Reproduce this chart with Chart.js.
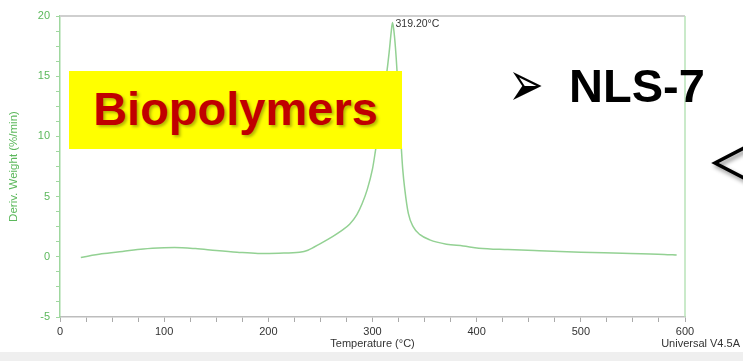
<!DOCTYPE html>
<html lang="en">
<head>
    <meta charset="UTF-8" />
    <title>DTG NLS-7</title>
    <script src="https://cdn.jsdelivr.net/npm/chart.js"></script>
    <style>
        html, body { margin: 0; padding: 0; background: #fff; }
        .slide { position: relative; width: 743px; height: 361px; overflow: hidden; background: #fff; }
        #canvas1 { position: absolute; left: 0; top: 0; }
        .bio-box { position: absolute; left: 69px; top: 71px; width: 333px; height: 78px; background: #ffff00; }
        .bio-text {
            position: absolute; left: 0; width: 100%; top: 14px; text-align: center;
            font: bold 47px 'Liberation Sans', Arial, sans-serif; line-height: 47px;
            color: #c00000; text-shadow: 2px 2px 3px rgba(70, 70, 0, 0.4);
        }
        .nls {
            position: absolute; left: 569px; top: 62px;
            font: bold 47px 'Liberation Sans', Arial, sans-serif; line-height: 47px; color: #000;
        }
        .bullet {
            position: absolute; left: 498px; top: 46px; width: 56px; text-align: center;
            font: 64px 'DejaVu Sans', sans-serif; line-height: 76px; color: #000;
            transform: scaleX(0.66); transform-origin: 50% 50%;
        }
    </style>
</head>
<body>
<div class="slide">
    <canvas id="canvas1" width="743" height="361"></canvas>
    <div class="bio-box"><div class="bio-text">Biopolymers</div></div>
    <div class="bullet">➢</div>
    <div class="nls">NLS-7</div>
</div>

<script>
    const temperaturas = [20, 40, 60, 80, 100, 110, 130, 150, 170, 190, 210, 230, 238, 250, 262, 270, 278, 285,
        290, 295, 300, 303, 306, 309, 312, 314, 316, 318, 319.2, 320.5, 322, 323.5, 325, 326.5, 327.7, 329, 331,
        334.4, 339, 345.6, 355, 371, 387, 402, 430, 460, 500, 540, 580, 592];
    const derivPeso = [-0.05, 0.25, 0.45, 0.65, 0.75, 0.77, 0.68, 0.52, 0.38, 0.28, 0.3, 0.38, 0.55, 1.1, 1.7, 2.15,
        2.7, 3.5, 4.4, 5.6, 7.3, 8.9, 10.6, 12.5, 14.3, 15.5, 17.0, 18.7, 19.45, 18.8, 17.4, 15.5, 13.0, 10.8, 9.0,
        7.3, 5.6, 3.6, 2.5, 1.84, 1.41, 1.05, 0.9, 0.72, 0.6, 0.5, 0.38, 0.3, 0.2, 0.15];
    const yTicks = [-5, 0, 5, 10, 15, 20];
    const xTicks = [0, 100, 200, 300, 400, 500, 600];
    const picoTemp = 319.2;
    const picoLabel = '319.20°C';

    const fonte = "'Liberation Sans', Arial, sans-serif";
    const verde = '#5cb85c';

    const extras = {
        id: 'extras',
        beforeDraw(chart) {
            const ctx = chart.ctx;
            ctx.save();
            ctx.fillStyle = '#efefef';
            ctx.fillRect(0, 352, chart.width, chart.height - 352);
            ctx.restore();
        },
        afterDraw(chart) {
            const { ctx, chartArea: a, scales } = chart;
            ctx.save();
            // borda superior e direita
            ctx.strokeStyle = '#cfcfcf';
            ctx.lineWidth = 2;
            ctx.beginPath();
            ctx.moveTo(a.left, a.top);
            ctx.lineTo(a.right, a.top);
            ctx.stroke();
            ctx.strokeStyle = '#b9e3b9';
            ctx.lineWidth = 1.5;
            ctx.beginPath();
            ctx.moveTo(a.right, a.top);
            ctx.lineTo(a.right, a.bottom);
            ctx.stroke();

            // rótulo do pico
            const i = temperaturas.indexOf(picoTemp);
            const px = scales.x.getPixelForValue(picoTemp);
            const py = scales.y.getPixelForValue(derivPeso[i]);
            ctx.fillStyle = '#333';
            ctx.font = '10.5px ' + fonte;
            ctx.textBaseline = 'top';
            ctx.textAlign = 'left';
            ctx.fillText(picoLabel, px + 3, py - 4);

            ctx.textAlign = 'right';
            ctx.textBaseline = 'middle';
            ctx.font = '11px ' + fonte;
            ctx.fillText('Universal V4.5A', 740, 344);

            // seta lateral
            ctx.shadowColor = 'rgba(0,0,0,0.45)';
            ctx.shadowBlur = 4;
            ctx.shadowOffsetX = 2;
            ctx.shadowOffsetY = 3;
            ctx.strokeStyle = '#000';
            ctx.lineWidth = 3.5;
            ctx.beginPath();
            ctx.moveTo(748, 146);
            ctx.lineTo(715, 163);
            ctx.lineTo(748, 180);
            ctx.stroke();
            ctx.restore();
        }
    };

    const ctx = document.getElementById('canvas1').getContext('2d');
    new Chart(ctx, {
        type: 'line',
        data: {
            datasets: [{
                data: temperaturas.map((t, i) => ({ x: t, y: derivPeso[i] })),
                borderColor: '#93d193',
                borderWidth: 1.5,
                pointRadius: 0,
                cubicInterpolationMode: 'monotone'
            }]
        },
        options: {
            responsive: false,
            animation: false,
            layout: { padding: { top: 16, right: 58, left: 0, bottom: 0 } },
            plugins: { legend: { display: false }, tooltip: { enabled: false } },
            scales: {
                x: {
                    type: 'linear',
                    min: 0, max: 600,
                    afterFit: s => { s.height = 44; },
                    ticks: {
                        stepSize: 25, autoSkip: false, maxRotation: 0, padding: 3,
                        color: '#333', font: { family: fonte, size: 11 },
                        callback: v => xTicks.includes(v) ? v : ''
                    },
                    grid: { drawOnChartArea: false, drawTicks: true, tickLength: 5, color: '#aaa' },
                    border: { color: '#bdbdbd', width: 1.5 },
                    title: {
                        display: true, text: 'Temperature (°C)', color: '#333',
                        font: { family: fonte, size: 11 }, padding: { top: 0, bottom: 10 }
                    }
                },
                y: {
                    min: -5, max: 20,
                    afterFit: s => { s.width = 60; },
                    ticks: {
                        stepSize: 1.25, autoSkip: false, padding: 6,
                        color: verde, font: { family: fonte, size: 11 },
                        callback: v => yTicks.includes(v) ? v : ''
                    },
                    grid: { drawOnChartArea: false, drawTicks: true, tickLength: 4, color: '#9fd79f' },
                    border: { color: '#9fd79f', width: 1.5 },
                    title: {
                        display: true, text: 'Deriv. Weight (%/min)', color: verde,
                        font: { family: fonte, size: 11.5 }, padding: { top: 7, bottom: 0 }
                    }
                }
            }
        },
        plugins: [extras]
    });
</script>
</body>
</html>
